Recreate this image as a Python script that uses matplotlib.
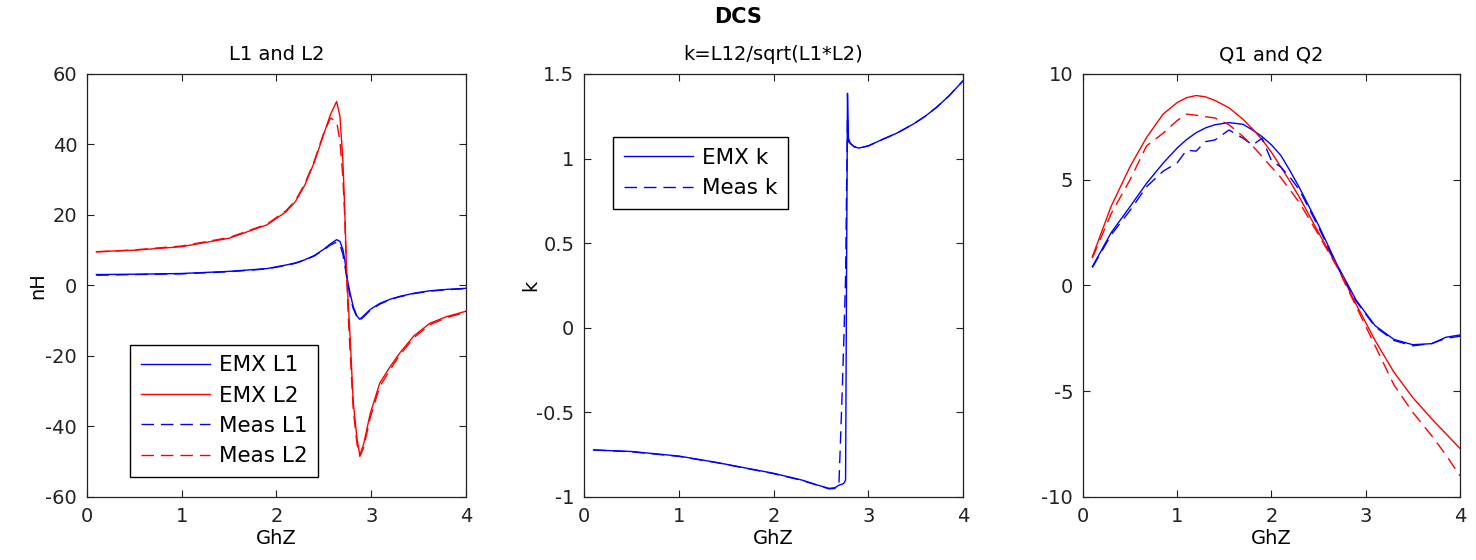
"""
DCS coupled-inductor extraction: EMX simulation vs measurement.
Three panels: L1/L2, coupling factor k and Q1/Q2 versus frequency.
"""
import matplotlib
matplotlib.use("Agg")
import matplotlib.pyplot as plt

# ---- panel 1: L1 and L2 (nH) ----
freq_l = [0.1, 0.5, 1.0, 1.5, 1.9, 2.1, 2.2, 2.3, 2.4, 2.5, 2.57, 2.635, 2.67, 2.7, 2.72,
          2.74, 2.76, 2.78, 2.81, 2.85, 2.88, 2.92, 2.99, 3.09, 3.2, 3.3, 3.45, 3.62, 3.8, 4.0]
emx_l1 = [3.1, 3.2, 3.4, 4.0, 4.8, 5.8, 6.4, 7.3, 8.5, 10.3, 11.8, 13.0, 12.5, 10.3, 7.5,
          3.3, 0.0, -2.5, -6.0, -8.7, -9.6, -8.6, -6.8, -5.1, -3.9, -3.1, -2.2, -1.5, -1.1, -0.8]
emx_l2 = [9.6, 10.0, 11.0, 13.4, 17.2, 20.9, 23.8, 28.5, 35.0, 43.0, 48.5, 52.2, 48.0, 36.0, 22.0,
          4.0, -6.0, -16.0, -33.0, -43.5, -48.1, -45.0, -36.3, -27.7, -23.0, -19.2, -14.3, -10.7, -8.8, -7.3]
meas_l1 = [2.9, 3.1, 3.3, 3.9, 4.7, 5.7, 6.3, 7.2, 8.4, 10.1, 11.5, 12.3, 11.5, 9.0, 6.0,
           2.5, -0.5, -3.5, -6.5, -9.0, -9.8, -8.9, -7.0, -5.3, -4.0, -3.2, -2.3, -1.6, -1.2, -0.9]
meas_l2 = [9.5, 10.1, 11.2, 13.6, 17.4, 21.2, 24.1, 28.9, 35.4, 43.3, 47.5, 46.5, 41.0, 31.0, 20.0,
           3.0, -10.0, -20.0, -35.0, -45.0, -48.5, -46.0, -37.5, -28.7, -23.8, -19.8, -14.8, -11.1, -9.1, -7.6]

# ---- panel 2: coupling factor k ----
freq_k = [0.1, 0.5, 1.0, 1.4, 2.0, 2.3, 2.46, 2.585, 2.65, 2.69, 2.72, 2.74, 2.76, 2.77,
          2.78, 2.79, 2.81, 2.85, 2.9, 3.0, 3.12, 3.3, 3.475, 3.6, 3.72, 3.85, 4.0]
emx_k = [-0.722, -0.731, -0.758, -0.796, -0.86, -0.9, -0.929, -0.949, -0.945, -0.93, -0.925, -0.92, -0.90, 0.3,
         1.386, 1.12, 1.09, 1.07, 1.062, 1.075, 1.106, 1.15, 1.204, 1.25, 1.303, 1.37, 1.46]
meas_k = [-0.722, -0.733, -0.76, -0.797, -0.862, -0.902, -0.93, -0.952, -0.95, -0.92, -0.45, -0.1, 0.3, 0.8,
          1.25, 1.1, 1.09, 1.07, 1.062, 1.075, 1.106, 1.15, 1.204, 1.25, 1.303, 1.37, 1.46]

# ---- panel 3: Q1 and Q2 ----
freq_q = [0.1, 0.3, 0.5, 0.675, 0.85, 1.0, 1.1, 1.2, 1.3, 1.4, 1.55, 1.7, 1.8,
          1.9, 2.0, 2.1, 2.2, 2.3, 2.5, 2.7, 2.9, 3.1, 3.3, 3.5, 3.7, 3.85, 4.0]
emx_q1 = [0.89, 2.5, 3.73, 4.83, 5.78, 6.5, 6.9, 7.22, 7.45, 7.6, 7.7, 7.62, 7.35,
          7.04, 6.65, 6.15, 5.4, 4.6, 2.85, 0.95, -0.7, -1.9, -2.55, -2.8, -2.75, -2.45, -2.34]
emx_q2 = [1.36, 3.75, 5.62, 7.0, 8.1, 8.65, 8.88, 8.98, 8.92, 8.75, 8.4, 7.85, 7.4,
          6.9, 6.3, 5.6, 4.9, 4.15, 2.5, 0.9, -0.9, -2.6, -4.1, -5.3, -6.3, -7.0, -7.7]
meas_q1 = [0.85, 2.4, 3.55, 4.67, 5.4, 5.8, 6.4, 6.35, 6.8, 6.88, 7.35, 6.96, 6.64,
           6.96, 5.9, 5.6, 5.1, 4.5, 2.75, 0.9, -0.75, -1.95, -2.6, -2.85, -2.75, -2.5, -2.4]
meas_q2 = [1.3, 3.4, 5.0, 6.6, 7.2, 7.8, 8.1, 8.05, 7.98, 7.92, 7.6, 7.04, 6.6,
           6.1, 5.6, 5.1, 4.5, 3.9, 2.4, 0.85, -1.0, -2.85, -4.7, -6.0, -7.1, -8.0, -9.0]

DASH = (0, (9, 5))
FS = 14
LEG_FS = 15.5

plt.rcParams["axes.unicode_minus"] = False


def style_axes(ax, ylim, yticks):
    ax.set_xlim(0, 4)
    ax.set_xticks([0, 1, 2, 3, 4])
    ax.set_ylim(*ylim)
    ax.set_yticks(yticks)
    ax.tick_params(direction="in", length=5, width=0.8, top=True, right=True,
                   labelsize=FS, colors="#222222", pad=7)
    for sp in ax.spines.values():
        sp.set_linewidth(0.9)
        sp.set_color("#222222")
    ax.set_xlabel("GhZ", fontsize=FS, labelpad=2)


def add_legend(ax, **kw):
    leg = ax.legend(fontsize=LEG_FS, frameon=True, fancybox=False, framealpha=1,
                    edgecolor="black", borderaxespad=0, handlelength=3.2,
                    handletextpad=0.42, labelspacing=0.48, borderpad=0.5, **kw)
    leg.get_frame().set_linewidth(1.0)
    return leg


def main():
    fig = plt.figure(figsize=(14.76, 5.6), dpi=100)
    ax1 = fig.add_axes([0.0589, 0.1125, 0.2568, 0.7554])
    ax2 = fig.add_axes([0.3957, 0.1125, 0.2568, 0.7554])
    ax3 = fig.add_axes([0.7337, 0.1125, 0.2554, 0.7554])

    # Panel 1: L1 and L2
    ax1.plot(freq_l, emx_l1, color="blue", lw=1.0, label="EMX L1")
    ax1.plot(freq_l, emx_l2, color="red", lw=1.0, label="EMX L2")
    ax1.plot(freq_l, meas_l1, color="blue", lw=1.0, ls=DASH, label="Meas L1")
    ax1.plot(freq_l, meas_l2, color="red", lw=1.0, ls=DASH, label="Meas L2")
    style_axes(ax1, (-60, 60), [-60, -40, -20, 0, 20, 40, 60])
    ax1.set_ylabel("nH", fontsize=FS, labelpad=-1)
    ax1.set_title("L1 and L2", fontsize=FS, pad=10)
    add_legend(ax1, loc="lower left", bbox_to_anchor=(0.1135, 0.047))

    # Panel 2: coupling factor
    ax2.plot(freq_k, emx_k, color="blue", lw=1.0, label="EMX k")
    ax2.plot(freq_k, meas_k, color="blue", lw=1.0, ls=DASH, label="Meas k")
    style_axes(ax2, (-1, 1.5), [-1, -0.5, 0, 0.5, 1, 1.5])
    ax2.set_yticklabels(["-1", "-0.5", "0", "0.5", "1", "1.5"])
    ax2.set_ylabel("k", fontsize=FS, labelpad=-3)
    ax2.set_title("k=L12/sqrt(L1*L2)", fontsize=FS, pad=10)
    add_legend(ax2, loc="upper left", bbox_to_anchor=(0.0765, 0.8504))

    # Panel 3: quality factors
    ax3.plot(freq_q, emx_q1, color="blue", lw=1.0)
    ax3.plot(freq_q, emx_q2, color="red", lw=1.0)
    ax3.plot(freq_q, meas_q1, color="blue", lw=1.0, ls=DASH)
    ax3.plot(freq_q, meas_q2, color="red", lw=1.0, ls=DASH)
    style_axes(ax3, (-10, 10), [-10, -5, 0, 5, 10])
    ax3.set_title("Q1 and Q2", fontsize=FS, pad=10)

    fig.suptitle("DCS", fontsize=15, fontweight="bold", y=0.988)
    fig.savefig("out.png", dpi=100)
    plt.close(fig)


if __name__ == "__main__":
    main()
